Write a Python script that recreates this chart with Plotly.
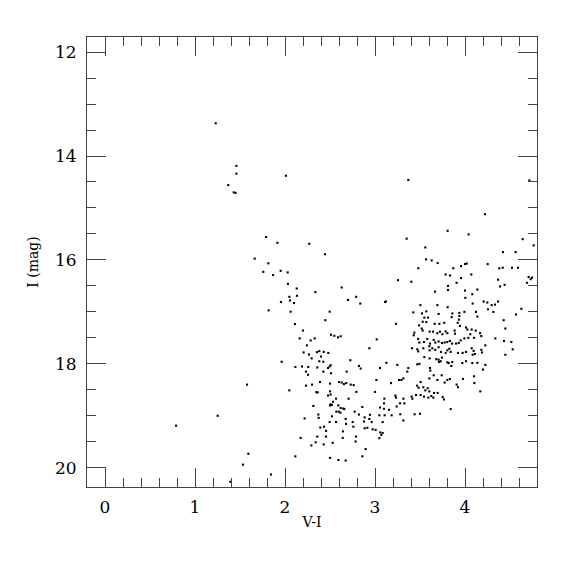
import plotly.graph_objects as go

# V-I colour and I magnitude of each star
vi = [
 1.23, 1.46, 1.46, 1.37, 1.43, 1.45, 2.01, 0.79,
 1.79, 1.915, 2.27, 2.444, 1.663, 1.815, 1.759, 1.867, 1.952, 2.03,
 2.033, 2.13, 2.337, 2.63, 2.133, 2.048, 2.055, 2.10, 1.955, 2.70,
 2.79, 1.818, 2.063, 2.496, 2.448, 2.111, 2.20, 2.163, 2.285, 2.33,
 2.511, 2.548, 2.589, 2.619, 2.244, 2.207, 2.266, 2.355, 2.381, 2.43,
 2.481, 2.296, 2.40, 2.381, 2.426, 1.963, 2.115, 2.189, 2.259, 2.359,
 2.233, 2.256, 2.426, 2.478, 2.507, 2.496, 2.511, 2.685, 2.726, 2.822,
 1.578, 2.048, 2.233, 2.30, 2.389, 2.50, 2.60, 2.63, 2.655, 2.681,
 2.73, 2.763, 2.793, 2.348, 2.363, 2.50, 2.507, 2.478, 2.567, 2.533,
 2.707, 2.315, 2.50, 2.507, 2.522, 2.593, 2.619, 2.648, 2.659, 2.57,
 2.596, 2.615, 2.774, 2.822, 1.252, 2.37, 2.374, 2.218, 2.522, 2.674,
 2.496, 2.567, 2.678, 2.752, 2.759, 2.392, 2.433, 2.456, 2.644, 2.359,
 2.456, 2.641, 2.789, 2.785, 2.174, 2.34, 2.293, 2.43, 2.53, 1.593,
 2.115, 2.50, 2.593, 2.674, 1.533, 1.844, 1.393, 2.836,
 3.37, 4.715, 4.222, 3.807, 3.352, 4.04, 4.641, 4.763, 3.559, 4.422,
 4.563, 3.567, 3.63, 3.696, 3.481, 3.87, 3.956, 4.0, 4.019, 4.252,
 4.381, 4.419, 4.522, 4.589, 3.785, 3.833, 3.956, 4.07, 3.256, 3.404,
 3.811, 3.907, 4.367, 4.389, 4.44, 4.707, 4.73, 4.745, 4.689, 3.667,
 3.811, 4.0, 4.137, 4.004, 4.081,
 3.111, 3.122, 3.504, 3.693, 3.807, 4.085, 4.207, 4.248, 4.256, 4.296,
 4.333, 4.367, 4.315, 4.626, 4.567, 3.426, 3.522, 3.57, 3.707, 3.859,
 3.937, 3.993, 4.122, 4.137, 3.548, 3.589, 3.53, 3.852, 3.937, 3.933,
 3.919, 3.944, 3.233, 3.489, 3.57, 3.663, 3.715, 3.77, 4.011, 4.119,
 4.074, 4.43, 4.448, 3.519, 3.53, 3.607, 3.644, 3.693, 3.722, 3.748,
 3.785, 3.804, 3.885, 3.889, 4.026, 4.059, 4.167, 4.181, 3.437, 3.43,
 3.019, 3.478, 3.493, 3.544, 3.581, 3.611, 3.652, 3.67, 3.707, 3.744,
 3.774, 3.804, 3.833, 3.856, 3.9, 3.93, 3.952, 3.993, 4.037, 4.1,
 4.337, 4.433, 4.515, 2.937, 3.411, 3.47, 3.48, 3.537, 3.604, 3.607,
 3.637, 3.67, 3.707, 3.733, 3.785, 3.804, 3.826, 3.841, 3.922, 3.974,
 4.011, 4.074, 4.096, 4.085, 4.11, 4.181, 4.189, 4.226, 4.448, 4.53,
 3.548, 3.607, 3.681, 3.707, 3.711, 3.73, 3.744, 3.804, 3.819, 3.848,
 3.859, 3.47, 3.493, 3.126, 3.248, 3.97, 4.011, 4.081, 4.137, 4.226,
 4.2, 2.841, 3.056, 3.37, 3.359, 3.315, 3.293, 3.267, 3.015, 3.178,
 3.611, 3.615, 3.652, 3.604, 3.693, 3.741, 3.804, 3.833, 3.774, 3.907,
 3.922, 3.978, 4.1, 4.104, 4.17, 3.507, 3.467, 3.485, 3.537, 3.585,
 3.604, 3.559, 3.656, 3.696, 3.752, 3.767, 3.0, 3.226, 3.233, 3.315,
 3.407, 3.415, 3.456, 3.507, 3.544, 3.593, 3.626, 3.648, 3.104, 3.1,
 3.278, 3.326, 3.241, 3.156, 2.859, 3.056, 3.1, 3.048, 3.107, 3.185,
 3.281, 3.44, 3.5, 3.315, 3.841, 2.944, 2.885, 2.937, 2.878, 2.963,
 3.085, 2.885, 2.915, 2.974, 3.007, 3.059, 3.085, 3.07, 3.048,
 2.896, 2.859,
]
imag = [
 13.37, 14.19, 14.34, 14.56, 14.70, 14.71, 14.38, 19.19,
 15.56, 15.67, 15.69, 15.89, 15.975, 16.065, 16.23, 16.29, 16.21, 16.24,
 16.46, 16.55, 16.62, 16.53, 16.69, 16.71, 16.78, 16.83, 16.81, 16.77,
 16.71, 16.97, 16.996, 16.996, 17.16, 17.235, 17.36, 17.51, 17.55, 17.51,
 17.44, 17.46, 17.49, 17.47, 17.645, 17.78, 17.82, 17.775, 17.755, 17.77,
 17.79, 17.895, 17.86, 17.95, 17.96, 17.96, 18.06, 18.05, 18.06, 18.07,
 18.15, 18.21, 18.15, 18.08, 18.025, 18.05, 18.18, 18.15, 17.93, 18.04,
 18.40, 18.51, 18.42, 18.40, 18.35, 18.38, 18.35, 18.36, 18.39, 18.37,
 18.40, 18.41, 18.54, 18.545, 18.55, 18.53, 18.59, 18.61, 18.67, 18.73,
 18.67, 18.81, 18.80, 18.78, 18.79, 18.80, 18.85, 18.86, 18.87, 18.92,
 18.92, 18.94, 18.92, 18.975, 19.0, 18.975, 19.04, 19.05, 19.01, 19.06,
 19.12, 19.12, 19.155, 19.12, 19.21, 19.225, 19.21, 19.29, 19.30, 19.40,
 19.40, 19.425, 19.40, 19.495, 19.425, 19.51, 19.57, 19.55, 19.52, 19.73,
 19.78, 19.81, 19.85, 19.86, 19.94, 20.13, 20.27, 16.84,
 14.46, 14.47, 15.12, 15.44, 15.59, 15.51, 15.60, 15.72, 15.76, 15.85,
 15.85, 15.99, 16.01, 16.06, 16.16, 16.16, 16.12, 16.08, 16.07, 16.08,
 16.16, 16.15, 16.15, 16.15, 16.28, 16.30, 16.35, 16.28, 16.39, 16.42,
 16.50, 16.44, 16.38, 16.51, 16.48, 16.33, 16.37, 16.34, 16.44, 16.61,
 16.58, 16.59, 16.57, 16.73, 16.66,
 16.81, 16.80, 16.87, 16.87, 16.91, 16.84, 16.80, 16.82, 16.95, 16.87,
 16.86, 16.80, 17.0, 16.94, 17.05, 17.01, 17.03, 16.99, 17.04, 17.03,
 17.02, 17.0, 17.0, 17.09, 17.11, 17.11, 17.19, 17.10, 17.08, 17.15,
 17.21, 17.27, 17.23, 17.26, 17.195, 17.23, 17.23, 17.21, 17.30, 17.36,
 17.34, 17.16, 17.32, 17.32, 17.36, 17.38, 17.38, 17.41, 17.38, 17.43,
 17.375, 17.41, 17.36, 17.42, 17.34, 17.43, 17.41, 17.465, 17.40, 17.45,
 17.53, 17.52, 17.59, 17.58, 17.52, 17.61, 17.54, 17.59, 17.57, 17.60,
 17.59, 17.58, 17.56, 17.61, 17.61, 17.6, 17.55, 17.51, 17.50, 17.50,
 17.51, 17.56, 17.58, 17.70, 17.70, 17.72, 17.76, 17.70, 17.66, 17.74,
 17.70, 17.73, 17.68, 17.77, 17.79, 17.74, 17.71, 17.77, 17.79, 17.79,
 17.77, 17.70, 17.75, 17.825, 17.81, 17.73, 17.78, 17.645, 17.825, 17.72,
 17.87, 17.895, 17.91, 17.92, 17.965, 17.95, 17.88, 17.97, 17.985, 18.04,
 17.965, 18.01, 18.0, 17.98, 18.02, 17.985, 17.95, 17.985, 17.98, 18.02,
 18.11, 18.09, 18.08, 18.08, 18.15, 18.28, 18.31, 18.31, 18.31, 18.37,
 18.08, 18.13, 18.22, 18.28, 18.31, 18.22, 18.31, 18.29, 18.36, 18.40,
 18.45, 18.29, 18.24, 18.37, 18.53, 18.35, 18.42, 18.46, 18.45, 18.47,
 18.53, 18.51, 18.56, 18.56, 18.64, 18.685, 18.54, 18.61, 18.65, 18.67,
 18.63, 18.67, 18.60, 18.60, 18.63, 18.65, 18.62, 18.65, 18.67, 18.76,
 18.76, 18.76, 18.82, 18.885, 18.83, 18.84, 18.865, 18.99, 18.99, 18.99,
 18.97, 18.97, 18.96, 19.09, 18.87, 18.98, 19.03, 19.06, 19.11, 19.12,
 19.12, 19.24, 19.23, 19.26, 19.27, 19.32, 19.33, 19.37, 19.43,
 19.64, 19.78,
]

x_range = [-0.2, 4.8]
y_range = [20.37, 11.71]
x_ticks = [0, 1, 2, 3, 4]
y_ticks = [12, 14, 16, 18, 20]

fig = go.Figure(go.Scatter(
    x=vi, y=imag, mode="markers",
    marker=dict(symbol="square", size=2.1, color="black", line=dict(width=0)),
    hoverinfo="skip", showlegend=False,
))

font_family = "DejaVu Serif"
axis_common = dict(
    showgrid=False, zeroline=False, showline=True, linecolor="#444", linewidth=1,
    mirror="ticks", ticks="inside", ticklen=19, tickwidth=1, tickcolor="#444",
    tickfont=dict(family=font_family, size=17, color="black"),
)
fig.update_xaxes(
    range=x_range, tickvals=x_ticks, ticktext=[str(t) for t in x_ticks],
    minor=dict(dtick=0.2, tick0=0, ticks="inside", ticklen=9, tickcolor="#444", showgrid=False),
    title=dict(text="V-I", font=dict(family=font_family, size=14, color="black"), standoff=0),
    ticklabelstandoff=5,
    **axis_common,
)
fig.update_yaxes(
    range=y_range, tickvals=y_ticks, ticktext=[str(t) for t in y_ticks],
    minor=dict(dtick=0.5, tick0=12, ticks="inside", ticklen=9, tickcolor="#444", showgrid=False),
    title=dict(text="I (mag)", font=dict(family=font_family, size=14, color="black"), standoff=13),
    ticklabelstandoff=6,
    **axis_common,
)
fig.update_layout(
    width=575, height=575,
    margin=dict(l=79, r=46, t=29, b=96),
    paper_bgcolor="white", plot_bgcolor="white",
)
fig.write_html("out.html")
